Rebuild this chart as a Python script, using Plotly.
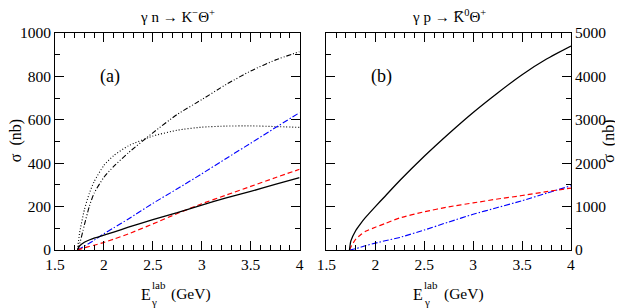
import plotly.graph_objects as go

# ---------------- data ----------------
# Panel (a): gamma n -> K- Theta+
E_a = [1.73, 1.75, 1.8, 1.85, 1.9, 2.0, 2.1, 2.25, 2.5, 2.75, 3.0, 3.25, 3.5, 3.75, 4.0]
a_solid   = [0, 18, 36, 46, 55, 68, 82, 105, 140, 172, 207, 240, 270, 302, 333]
a_dashed  = [0, 3, 10, 16, 22, 35, 50, 74, 120, 168, 213, 253, 293, 333, 372]
a_dashdot = [0, 5, 18, 31, 45, 75, 102, 143, 215, 282, 351, 422, 492, 563, 633]
a_dotted  = [0, 75, 185, 260, 315, 390, 435, 480, 525, 552, 566, 571, 572, 569, 565]
a_dashdotdot = [0, 25, 115, 200, 262, 335, 385, 448, 540, 625, 693, 763, 825, 875, 914]

# Panel (b): gamma p -> K0bar Theta+
E_b = [1.736, 1.75, 1.8, 1.85, 1.9, 2.0, 2.1, 2.25, 2.5, 2.75, 3.0, 3.25, 3.5, 3.75, 4.0]
b_solid   = [0, 210, 450, 610, 750, 1000, 1240, 1600, 2160, 2680, 3170, 3620, 4040, 4400, 4700]
b_dashed  = [0, 70, 250, 350, 430, 525, 610, 740, 880, 995, 1085, 1175, 1255, 1345, 1425]
b_dashdot = [0, 5, 30, 65, 100, 158, 212, 290, 460, 645, 822, 980, 1135, 1310, 1480]

x_ticks = [1.5, 2, 2.5, 3, 3.5, 4]
ya_ticks = [0, 200, 400, 600, 800, 1000]
yb_ticks = [0, 1000, 2000, 3000, 4000, 5000]

FONT = "Liberation Serif"

fig = go.Figure()

def add(x, y, color, dash, width, xa, ya):
    fig.add_trace(go.Scatter(x=x, y=y, mode="lines", xaxis=xa, yaxis=ya,
                             line=dict(color=color, dash=dash, width=width, shape="spline", smoothing=0.6),
                             showlegend=False, hoverinfo="skip"))

add(E_a, a_dotted, "black", "1px,2px", 1.1, "x", "y")
add(E_a, a_dashdotdot, "black", "5px,2px,1px,2px,1px,2px", 1.1, "x", "y")
add(E_a, a_dashdot, "#0000ff", "6px,2px,1.5px,2px", 1.1, "x", "y")
add(E_a, a_dashed, "#ff0000", "5px,3px", 1.2, "x", "y")
add(E_a, a_solid, "black", "solid", 1.3, "x", "y")

add(E_b, b_dashdot, "#0000ff", "6px,2px,1.5px,2px", 1.1, "x2", "y2")
add(E_b, b_dashed, "#ff0000", "5px,3px", 1.2, "x2", "y2")
add(E_b, b_solid, "black", "solid", 1.3, "x2", "y2")

TF = dict(family=FONT, size=15.5, color="black")

xcommon = dict(range=[1.5, 4], tickvals=x_ticks, ticks="inside", ticklen=9, tickwidth=1,
               tickcolor="black", showline=True, linecolor="black", linewidth=1,
               mirror="allticks", showgrid=False, zeroline=False,
               minor=dict(dtick=0.1, ticks="inside", ticklen=5, tickcolor="black", showgrid=False),
               tickfont=TF)

# page shows the figure offset by 8px (body margin) -> figure is 615x300
W, H = 615, 300
fig.update_layout(
    width=W, height=H,
    margin=dict(l=44, r=52, t=25, b=58),
    paper_bgcolor="white", plot_bgcolor="white",
    font=dict(family=FONT, color="black"),
    xaxis=dict(domain=[0, 0.474], anchor="y", **xcommon),
    xaxis2=dict(domain=[0.526, 1], anchor="y2", **xcommon),
    yaxis=dict(range=[0, 1000], tickvals=ya_ticks, anchor="x", ticks="inside", ticklen=9,
               tickcolor="black", showline=True, linecolor="black", linewidth=1,
               mirror="allticks", showgrid=False, zeroline=False,
               minor=dict(dtick=100, ticks="inside", ticklen=5, tickcolor="black", showgrid=False),
               tickfont=TF),
    yaxis2=dict(range=[0, 5000], tickvals=yb_ticks, tickformat="d", anchor="x2", side="right",
                ticks="inside", ticklen=9, tickcolor="black", showline=True, linecolor="black",
                linewidth=1, mirror="allticks", showgrid=False, zeroline=False,
                minor=dict(dtick=500, ticks="inside", ticklen=5, tickcolor="black", showgrid=False),
                tickfont=TF),
)

# positions in page pixels, converted relative to the plot area (page x 52..571, y 33..250)
def px_ann(text, px, py, size, angle=0):
    fig.add_annotation(text=text, x=(px - 52) / 519, y=(250 - py) / 217, xref="paper", yref="paper",
                       showarrow=False, xanchor="center", yanchor="middle", textangle=angle,
                       font=dict(family=FONT, size=size, color="black"))

# titles
px_ann("γ n → K<sup>−</sup>Θ<sup>+</sup>", 175, 16, 15)
px_ann("γ p → K\u0305<sup>0</sup>Θ<sup>+</sup>", 448, 16, 15)
# panel labels
px_ann("(a)", 107, 76, 18)
px_ann("(b)", 380, 76, 18)
# y titles
px_ann("σ  (nb)", 13, 141, 16, angle=-90)
px_ann("σ  (nb)", 609, 141, 16, angle=-90)
# x titles
for off in (0, 274):
    px_ann("E", 143.5 + off, 294, 16)
    px_ann("lab", 156.5 + off, 285, 11)
    px_ann("γ", 152 + off, 302, 11)
    px_ann("(GeV)", 189 + off, 294, 15.5)

fig.write_html("out.html")
